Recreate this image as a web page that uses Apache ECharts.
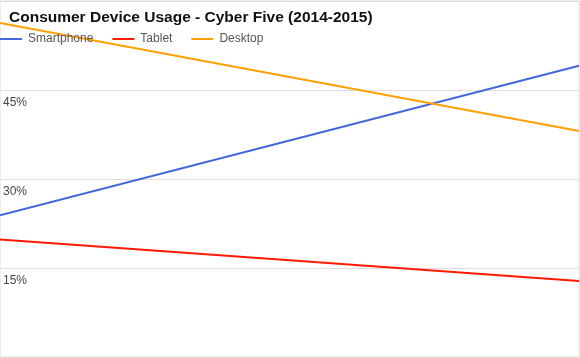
<!DOCTYPE html>
<html><head><meta charset="utf-8">
<script src="https://cdn.jsdelivr.net/npm/echarts@6/dist/echarts.min.js"></script>
<style>html,body{margin:0;padding:0;background:#fff}#c{width:580px;height:358px}</style>
</head><body><div id="c"></div>
<script>
const categories = ['2014', '2015'];
const smartphone = [23.9, 49.1];
const tablet = [19.8, 12.8];
const desktop = [56.3, 38.1];
const yTicks = [15, 30, 45];

const chart = echarts.init(document.getElementById('c'));
chart.setOption({
  animation: false,
  title: {
    text: 'Consumer Device Usage - Cyber Five (2014-2015)',
    left: 9, top: 10, padding: 0,
    textStyle: {fontFamily: 'Liberation Sans, Arial', fontSize: 15.5, fontWeight: 'bold', color: '#111'}
  },
  legend: {
    left: 0, top: 33, padding: 0,
    itemWidth: 22, itemHeight: 2, itemGap: 19,
    icon: 'rect',
    textStyle: {fontFamily: 'Liberation Sans, Arial', fontSize: 12, color: '#555', padding: [0,0,0,1]},
    data: ['Smartphone', 'Tablet', 'Desktop']
  },
  grid: {left: 0, right: 1, top: 1, bottom: 1, show: true, borderColor: '#ddd', borderWidth: 1},
  xAxis: {
    type: 'category', data: categories, boundaryGap: false,
    axisLine: {show: false}, axisTick: {show: false}, axisLabel: {show: false}, splitLine: {show: false}
  },
  yAxis: {
    type: 'value', min: 0, max: 60, interval: 15,
    axisLine: {show: false}, axisTick: {show: false},
    splitLine: {lineStyle: {color: '#ddd', width: 1}},
    axisLabel: {
      inside: true, verticalAlign: 'top', margin: 3, padding: [7,0,0,0],
      fontFamily: 'Liberation Sans, Arial', fontSize: 12, color: '#444',
      formatter: v => yTicks.includes(v) ? v + '%' : ''
    }
  },
  series: [
    {name: 'Smartphone', type: 'line', data: smartphone, symbol: 'none', color: '#4169dc', lineStyle: {width: 2}},
    {name: 'Tablet', type: 'line', data: tablet, symbol: 'none', color: '#ff1a00', lineStyle: {width: 2}},
    {name: 'Desktop', type: 'line', data: desktop, symbol: 'none', color: '#ffa000', lineStyle: {width: 2}}
  ]
});
</script></body></html>
